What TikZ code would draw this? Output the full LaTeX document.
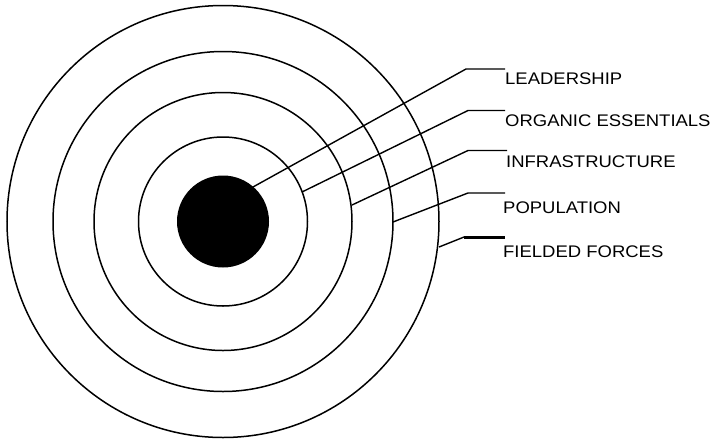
\documentclass[tikz,border=0pt]{standalone}
\usepackage{fontspec}
\setmainfont{Liberation Sans}
\begin{document}
\begin{tikzpicture}[x=1pt,y=-1pt,
  ring/.style={draw=black,line width=1.5pt},
  leader/.style={draw=black,line width=1.4pt,line join=miter},
  lbl/.style={anchor=west,inner sep=0pt,font=\fontsize{16.8}{18}\selectfont}]
\useasboundingbox (0,0) rectangle (713,440);
\fill[white] (0,0) rectangle (713,440);
\coordinate (c) at (223,221.5);
\draw[ring] (c) circle[radius=216];
\draw[ring] (c) circle[radius=170];
\draw[ring] (c) circle[radius=129];
\draw[ring] (c) circle[radius=84.5];
\fill[black] (c) circle[radius=46];
% start points
\coordinate (s1) at (253,187);
\coordinate (s2) at (302,192);
\coordinate (s3) at (352,205);
\coordinate (s4) at (393,222);
\coordinate (s5) at (439,247);
% corners
\coordinate (k1) at (466,69);
\coordinate (k2) at (468,110.5);
\coordinate (k3) at (468,150.5);
\coordinate (k4) at (468,193);
\coordinate (k5) at (464,237);
% ends
\coordinate (e1) at (505,69);
\coordinate (e2) at (505,110.5);
\coordinate (e3) at (507,150.5);
\coordinate (e4) at (505,193);
\coordinate (e5) at (505,237);
\draw[leader] (s1) -- (k1) -- (e1);
\draw[leader] (s2) -- (k2) -- (e2);
\draw[leader] (s3) -- (k3) -- (e3);
\draw[leader] (s4) -- (k4) -- (e4);
\draw[leader] (s5) -- (k5);
\draw[line width=3pt] (k5) -- (e5);
\node[lbl] (t1) at (505,79) {\scalebox{1.1}[1]{LEADERSHIP}};
\node[lbl] (t2) at (505,121) {\scalebox{1.1}[1]{ORGANIC ESSENTIALS}};
\node[lbl] (t3) at (506,161.5) {\scalebox{1.1}[1]{INFRASTRUCTURE}};
\node[lbl] (t4) at (503,208) {\scalebox{1.1}[1]{POPULATION}};
\node[lbl] (t5) at (503,251.5) {\scalebox{1.1}[1]{FIELDED FORCES}};
\end{tikzpicture}
\end{document}
